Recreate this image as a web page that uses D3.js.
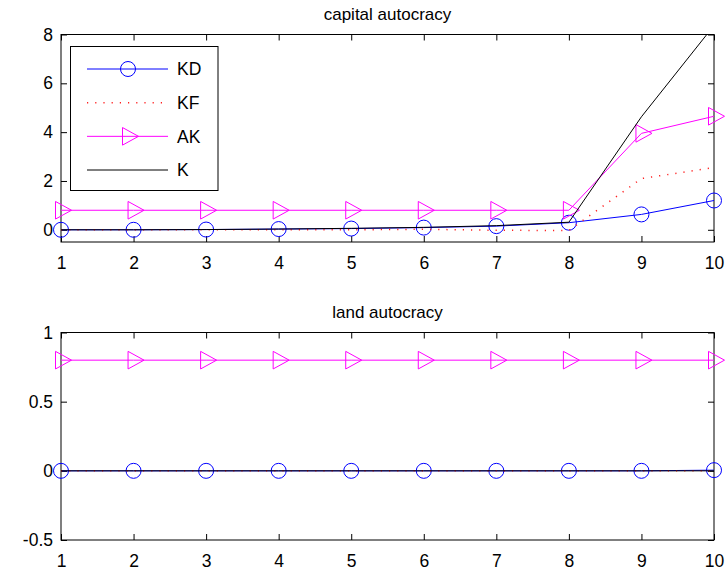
<!DOCTYPE html>
<html>
<head>
<meta charset="utf-8">
<script src="https://cdn.jsdelivr.net/npm/d3@7"></script>
<style>
  body { margin: 0; background: #fff; }
  svg { font-family: "Liberation Sans", Arial, sans-serif; }
</style>
</head>
<body>
<div id="chart"></div>
<script>
// x positions shared by all series
const periods = [1, 2, 3, 4, 5, 6, 7, 8, 9, 10];

// capital autocracy
const capitalKD = [0, 0, 0.01, 0.03, 0.05, 0.09, 0.15, 0.29, 0.63, 1.2];
const capitalKF = [0, 0, 0, 0, 0, 0.02, -0.02, -0.03, 2.1, 2.55];
const capitalAK = [0.8, 0.8, 0.8, 0.8, 0.8, 0.8, 0.8, 0.8, 3.95, 4.65];
const capitalK = [0, 0, 0.01, 0.03, 0.06, 0.1, 0.17, 0.31, 4.63, 8.37];

// land autocracy
const landKD = [0, 0, 0, 0, 0, 0, 0, 0, 0, 0.005];
const landKF = [0, 0, 0, 0, 0, 0, 0, 0, 0, 0];
const landAK = [0.8, 0.8, 0.8, 0.8, 0.8, 0.8, 0.8, 0.8, 0.8, 0.8];
const landK = [0, 0, 0, 0, 0, 0, 0, 0, 0, 0];

const capitalTicks = [0, 2, 4, 6, 8];
const landTicks = [-0.5, 0, 0.5, 1];
const legendNames = ["KD", "KF", "AK", "K"];

const width = 725, height = 573;
const svg = d3.select("#chart").append("svg")
  .attr("width", width).attr("height", height);

const styles = {
  KD: { color: "#0000ff", dash: null, marker: "circle" },
  KF: { color: "#ff2020", dash: "1.2,7", marker: null },
  AK: { color: "#ff00ff", dash: null, marker: "triangle" },
  K:  { color: "#000000", dash: null, marker: null }
};

function drawMarker(g, type, x, y, color) {
  if (type === "circle") {
    g.append("circle").attr("cx", x).attr("cy", y).attr("r", 7.5)
      .attr("fill", "none").attr("stroke", color).attr("stroke-width", 1);
  } else if (type === "triangle") {
    g.append("path")
      .attr("d", `M${x - 5.5},${y - 8.8}L${x + 10.5},${y}L${x - 5.5},${y + 8.8}Z`)
      .attr("fill", "none").attr("stroke", color).attr("stroke-width", 1);
  }
}

const fmt = d => String(d);

function drawPanel(opts) {
  const { top, bottom, yDomain, yTicks, title, series, id } = opts;
  const left = 61, right = 714;
  const x = d3.scaleLinear().domain([1, 10]).range([left, right]);
  const y = d3.scaleLinear().domain(yDomain).range([bottom, top]);
  const g = svg.append("g");

  g.append("clipPath").attr("id", id)
    .append("rect").attr("x", left).attr("y", top)
    .attr("width", right - left).attr("height", bottom - top);

  // axes with inward ticks on all four sides
  const tick = 6;
  g.append("g").attr("transform", `translate(0,${bottom})`)
    .call(d3.axisBottom(x).tickValues(periods).tickSizeInner(-tick).tickSizeOuter(0)
      .tickPadding(15).tickFormat(fmt))
    .call(a => a.select(".domain").remove());
  g.append("g").attr("transform", `translate(0,${top})`)
    .call(d3.axisTop(x).tickValues(periods).tickSizeInner(-tick).tickSizeOuter(0).tickFormat(""))
    .call(a => a.select(".domain").remove());
  g.append("g").attr("transform", `translate(${left},0)`)
    .call(d3.axisLeft(y).tickValues(yTicks).tickSizeInner(-tick).tickSizeOuter(0)
      .tickPadding(8).tickFormat(fmt))
    .call(a => a.select(".domain").remove());
  g.append("g").attr("transform", `translate(${right},0)`)
    .call(d3.axisRight(y).tickValues(yTicks).tickSizeInner(-tick).tickSizeOuter(0).tickFormat(""))
    .call(a => a.select(".domain").remove());
  g.selectAll(".tick text").attr("font-size", 17.5).attr("fill", "#000")
    .attr("font-family", "Liberation Sans, Arial, sans-serif");
  g.selectAll(".tick line").attr("stroke", "#000");

  g.append("rect").attr("x", left).attr("y", top)
    .attr("width", right - left).attr("height", bottom - top)
    .attr("fill", "none").attr("stroke", "#000").attr("stroke-width", 1);

  g.append("text").attr("x", (left + right) / 2).attr("y", top - 15)
    .attr("text-anchor", "middle").attr("font-size", 17).text(title);

  const line = d3.line().x((d, i) => x(periods[i])).y(d => y(d));
  // draw order: KD, KF, AK, K
  series.forEach(s => {
    const st = styles[s.name];
    g.append("path").datum(s.values)
      .attr("clip-path", `url(#${id})`)
      .attr("d", line).attr("fill", "none")
      .attr("stroke", st.color).attr("stroke-width", s.name === "KF" ? 1.5 : 1)
      .attr("stroke-dasharray", st.dash);
    if (st.marker) {
      s.values.forEach((v, i) => drawMarker(g, st.marker, x(periods[i]), y(v), st.color));
    }
  });
  return g;
}

drawPanel({
  id: "clipTop", top: 34.5, bottom: 242, yDomain: [-0.5, 8], yTicks: capitalTicks,
  title: "capital autocracy",
  series: [
    { name: "KD", values: capitalKD },
    { name: "KF", values: capitalKF },
    { name: "AK", values: capitalAK },
    { name: "K", values: capitalK }
  ]
});

drawPanel({
  id: "clipBottom", top: 332.5, bottom: 540, yDomain: [-0.5, 1], yTicks: landTicks,
  title: "land autocracy",
  series: [
    { name: "KD", values: landKD },
    { name: "KF", values: landKF },
    { name: "AK", values: landAK },
    { name: "K", values: landK }
  ]
});

// legend
const lg = svg.append("g");
lg.append("rect").attr("x", 70.5).attr("y", 46.5).attr("width", 147.5).attr("height", 144)
  .attr("fill", "#fff").attr("stroke", "#000").attr("stroke-width", 1);
const legendY = d3.scalePoint().domain(legendNames).range([69, 170]);
legendNames.forEach(name => {
  const st = styles[name];
  const yy = legendY(name);
  lg.append("line").attr("x1", 87).attr("x2", 168).attr("y1", yy).attr("y2", yy)
    .attr("stroke", st.color).attr("stroke-width", name === "KF" ? 1.5 : 1)
    .attr("stroke-dasharray", st.dash);
  if (st.marker) drawMarker(lg, st.marker, 128, yy, st.color);
  lg.append("text").attr("x", 177).attr("y", yy).attr("dy", "0.36em")
    .attr("font-size", 17.5).text(name);
});
</script>
</body>
</html>
